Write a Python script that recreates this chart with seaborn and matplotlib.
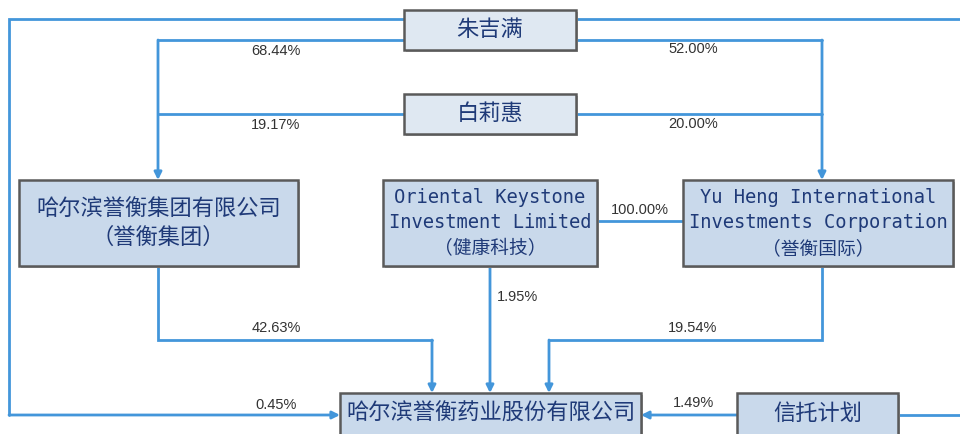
import matplotlib
matplotlib.use("Agg")
import matplotlib.pyplot as plt
from matplotlib.patches import Rectangle
import seaborn as sns

# ---- data ----
node_names = ["朱吉满", "白莉惠", "誉衡集团", "健康科技", "誉衡国际", "誉衡药业", "信托计划"]
node_labels = [
    "朱吉满",
    "白莉惠",
    "哈尔滨誉衡集团有限公司\n（誉衡集团）",
    "Oriental Keystone\nInvestment Limited\n（健康科技）",
    "Yu Heng International\nInvestments Corporation\n（誉衡国际）",
    "哈尔滨誉衡药业股份有限公司",
    "信托计划",
]
edge_sources = ["朱吉满", "白莉惠", "朱吉满", "白莉惠", "健康科技", "誉衡集团", "健康科技", "誉衡国际", "朱吉满", "信托计划"]
edge_targets = ["誉衡集团", "誉衡集团", "誉衡国际", "誉衡国际", "誉衡国际", "誉衡药业", "誉衡药业", "誉衡药业", "誉衡药业", "誉衡药业"]
edge_pcts = ["68.44%", "19.17%", "52.00%", "20.00%", "100.00%", "42.63%", "1.95%", "19.54%", "0.45%", "1.49%"]

# ---- layout (positions in pixel space) ----
boxes = {
    "朱吉满": (404, 10, 172, 40),
    "白莉惠": (404, 94, 172, 40),
    "誉衡集团": (19, 180, 279, 86),
    "健康科技": (383, 180, 214, 86),
    "誉衡国际": (683, 180, 270, 86),
    "誉衡药业": (340, 393, 301, 50),
    "信托计划": (737, 393, 161, 50),
}
top_fill = "#dfe8f2"
low_fill = "#c9d9eb"
edge_col = "#5a5a5a"
line_col = "#4396da"
text_col = "#1f3a78"
pct_col = "#333333"

sns.set_theme(style="white")
plt.rcParams["font.family"] = ["Noto Sans CJK SC", "DejaVu Sans"]

fig = plt.figure(figsize=(9.6, 4.34), dpi=100)
ax = fig.add_axes([0, 0, 1, 1])
ax.set_xlim(0, 960)
ax.set_ylim(434, 0)
ax.axis("off")

def path(pts, arrow=False):
    xs = [p[0] for p in pts]
    ys = [p[1] for p in pts]
    if arrow:
        ax.plot(xs[:-1], ys[:-1], color=line_col, lw=2, solid_joinstyle="miter", zorder=1)
        ax.annotate("", xy=pts[-1], xytext=pts[-2],
                    arrowprops=dict(arrowstyle="-|>", color=line_col, lw=2,
                                    mutation_scale=11, shrinkA=0, shrinkB=0), zorder=1)
    else:
        ax.plot(xs, ys, color=line_col, lw=2, solid_joinstyle="miter", zorder=1)

pct = dict(zip(zip(edge_sources, edge_targets), edge_pcts))

def lbl(x, y, s, ha="center"):
    ax.text(x, y, s, ha=ha, va="center", fontsize=10.5, color=pct_col,
            family=["Liberation Sans", "DejaVu Sans"], zorder=3)

# edges
path([(404, 19), (9, 19), (9, 415), (340, 415)], arrow=True)
lbl(276, 405, pct[("朱吉满", "誉衡药业")])
path([(404, 40), (158, 40), (158, 180)], arrow=True)
lbl(276, 51, pct[("朱吉满", "誉衡集团")])
path([(404, 114), (158, 114)])
lbl(276, 125, pct[("白莉惠", "誉衡集团")])
path([(576, 19), (965, 19)])
path([(576, 40), (822, 40), (822, 180)], arrow=True)
lbl(693, 49, pct[("朱吉满", "誉衡国际")])
path([(576, 114), (822, 114)])
lbl(693, 124, pct[("白莉惠", "誉衡国际")])
path([(597, 221), (683, 221)])
lbl(640, 210, pct[("健康科技", "誉衡国际")])
path([(158, 266), (158, 340), (432, 340), (432, 393)], arrow=True)
lbl(276, 328, pct[("誉衡集团", "誉衡药业")])
path([(490, 266), (490, 393)], arrow=True)
lbl(497, 297, pct[("健康科技", "誉衡药业")], ha="left")
path([(822, 266), (822, 340), (549, 340), (549, 393)], arrow=True)
lbl(693, 328, pct[("誉衡国际", "誉衡药业")])
path([(737, 415), (641, 415)], arrow=True)
lbl(693, 403, pct[("信托计划", "誉衡药业")])
path([(898, 415), (965, 415)])

# boxes
for name, label in zip(node_names, node_labels):
    x, y, w, h = boxes[name]
    fill = top_fill if name in ("朱吉满", "白莉惠") else low_fill
    ax.add_patch(Rectangle((x + 2, y + 2), w, h, facecolor="#b0b0b0", edgecolor="none", zorder=1.5))
    ax.add_patch(Rectangle((x, y), w, h, facecolor=fill, edgecolor=edge_col, lw=1.8, zorder=2))
    cy = y + h / 2 if name not in ("誉衡药业", "信托计划") else 413
    is_en = label[0].isascii()
    if is_en:
        ax.text(x + w / 2, cy, label, ha="center", va="center", fontsize=13.5,
                color=text_col, linespacing=1.45,
                family=["DejaVu Sans Mono", "Noto Sans CJK SC"], zorder=3)
    else:
        ax.text(x + w / 2, cy, label, ha="center", va="center", fontsize=16,
                color=text_col, linespacing=1.35, zorder=3)

fig.savefig("out.png", dpi=100)
